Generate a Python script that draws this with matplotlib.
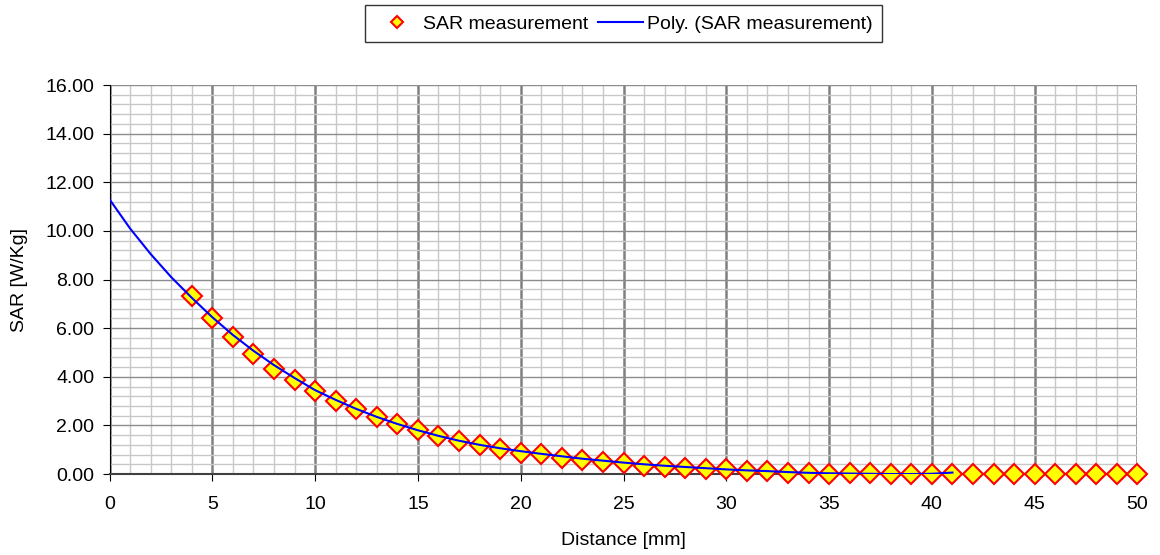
import matplotlib.pyplot as plt
from matplotlib.ticker import MultipleLocator, FormatStrFormatter

plt.rcParams['font.family'] = ['Liberation Sans', 'DejaVu Sans']

# SAR measurement points (distance in mm, SAR in W/Kg)
dist = list(range(4, 51))
sar = [7.32, 6.43, 5.63, 4.94, 4.32, 3.87, 3.42, 3.02, 2.66, 2.33,
       2.04, 1.81, 1.58, 1.35, 1.21, 1.04, 0.88, 0.82, 0.65, 0.58,
       0.51, 0.44, 0.35, 0.27, 0.26, 0.19, 0.19, 0.12, 0.12, 0.06,
       0.05, 0.02, 0.04, 0.03, 0.02, 0.02, 0.02, 0.01, 0.01, 0.01,
       0.01, 0.01, 0.01, 0.01, 0.01, 0.01, 0.01]

# polynomial trendline as drawn (distance 0..41)
fit_x = list(range(0, 42))
fit_y = [11.3, 10.1, 9.05, 8.1, 7.25, 6.45, 5.72, 5.07, 4.48, 3.95,
         3.45, 3.05, 2.68, 2.35, 2.06, 1.8, 1.57, 1.37, 1.2, 1.06,
         0.94, 0.83, 0.73, 0.63, 0.55, 0.47, 0.4, 0.34, 0.29, 0.24,
         0.19, 0.15, 0.12, 0.08, 0.05, 0.03, 0.02, 0.01, 0.0, 0.0,
         0.01, 0.06]

fig = plt.figure(figsize=(11.6, 5.55), dpi=100)
ax = fig.add_axes([0.0944, 0.1459, 0.8862, 0.7009])

ax.plot(dist, sar, linestyle='none', marker='D', markersize=10,
        markerfacecolor='#ffff00', markeredgecolor='#ff0000',
        markeredgewidth=1.5, label='SAR measurement', zorder=3, clip_on=False)
ax.plot(fit_x, fit_y, color='#0000ff', linewidth=1.5,
        label='Poly. (SAR measurement)', zorder=4)

ax.set_xlim(0, 50)
ax.set_ylim(0, 16)
ax.xaxis.set_major_locator(MultipleLocator(5))
ax.xaxis.set_minor_locator(MultipleLocator(1))
ax.yaxis.set_major_locator(MultipleLocator(2))
ax.yaxis.set_minor_locator(MultipleLocator(0.4))
ax.yaxis.set_major_formatter(FormatStrFormatter('%.2f'))

# gridlines
ax.grid(which='minor', color='#c8c8c8', linewidth=1)
ax.grid(which='major', axis='y', color='#8c8c8c', linewidth=1)
ax.grid(which='major', axis='x', color='#808080', linewidth=1.8)
ax.set_axisbelow(True)

for side in ['top', 'right']:
    ax.spines[side].set_visible(False)
ax.spines['left'].set_color('#000000')
ax.spines['bottom'].set_color('#404040')
ax.spines['bottom'].set_linewidth(1.5)
ax.tick_params(which='major', direction='out', length=5, pad=6,
               labelsize=14, color='#000000')
ax.tick_params(axis='x', which='major', pad=11)
ax.tick_params(which='minor', length=0)

ax.set_xlabel('Distance [mm]', fontsize=14)
ax.set_ylabel('SAR [W/Kg]', fontsize=14)
ax.xaxis.set_label_coords(0.5, -0.15)
ax.yaxis.set_label_coords(-0.079, 0.5)

leg = ax.legend(loc='upper center', bbox_to_anchor=(0.5, 1.205), ncol=2,
                frameon=True, fancybox=False, edgecolor='#000000',
                fontsize=14, handlelength=2.3, columnspacing=0.5,
                handletextpad=0.2, borderpad=0.5, borderaxespad=0,
                markerscale=0.65)
leg.get_frame().set_linewidth(1)

fig.savefig('out.png', dpi=100)
